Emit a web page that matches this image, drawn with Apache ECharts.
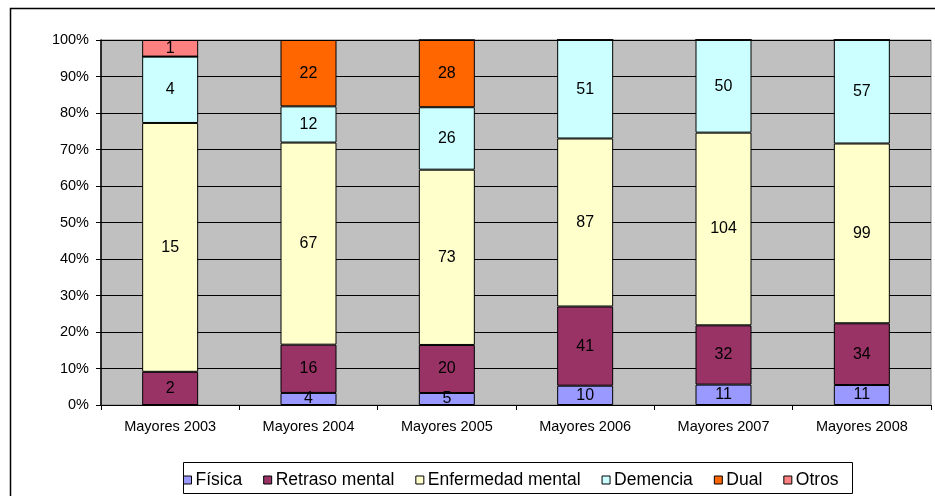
<!DOCTYPE html>
<html>
<head>
<meta charset="utf-8">
<script src="https://cdn.jsdelivr.net/npm/echarts@6/dist/echarts.min.js"></script>
<style>html,body{margin:0;padding:0;background:#fff;}#c{width:935px;height:496px;}</style>
</head>
<body>
<div id="c"></div>
<script>
var categories = ['Mayores 2003','Mayores 2004','Mayores 2005','Mayores 2006','Mayores 2007','Mayores 2008'];
var fisica = [0, 4, 5, 10, 11, 11];
var retraso = [2, 16, 20, 41, 32, 34];
var enfermedad = [15, 67, 73, 87, 104, 99];
var demencia = [4, 12, 26, 51, 50, 57];
var dual = [0, 22, 28, 0, 0, 0];
var otros = [1, 0, 0, 0, 0, 0];
var yTicks = [0,10,20,30,40,50,60,70,80,90,100];

var seriesDefs = [
  {name:'Física', data:fisica, color:'#9999FF'},
  {name:'Retraso mental', data:retraso, color:'#993366'},
  {name:'Enfermedad mental', data:enfermedad, color:'#FFFFCC'},
  {name:'Demencia', data:demencia, color:'#CCFFFF'},
  {name:'Dual', data:dual, color:'#FF6600'},
  {name:'Otros', data:otros, color:'#FF8080'}
];
var totals = categories.map(function(_, i){
  return seriesDefs.reduce(function(s, d){ return s + d.data[i]; }, 0);
});
var FONT = 'Arial, "Liberation Sans", sans-serif';

var chart = echarts.init(document.getElementById('c'), null, {renderer:'canvas'});
chart.setOption({
  animation:false,
  backgroundColor:'#fff',
  graphic:[
    {type:'rect', shape:{x:10.5, y:8.5, width:940, height:500}, style:{fill:'none', stroke:'#000', lineWidth:1.5}, silent:true},
    {type:'rect', shape:{x:183.5, y:462.5, width:669, height:31}, style:{fill:'#fff', stroke:'#000', lineWidth:1}, silent:true, z:-1}
  ],
  grid:{left:101, right:4, top:40, bottom:91, show:true, backgroundColor:'#C0C0C0', borderColor:'#808080', borderWidth:1},
  legend:{
    left:178, top:466, itemWidth:8, itemHeight:8, itemGap:21, icon:'rect',
    textStyle:{fontFamily:FONT, fontSize:17.5, color:'#000', padding:[0,0,0,-1]},
    itemStyle:{borderColor:'#000', borderWidth:1},
    data:seriesDefs.map(function(d){return d.name;}), selectedMode:false
  },
  xAxis:{
    type:'category', data:categories,
    axisLine:{show:true, lineStyle:{color:'#000', width:1}},
    axisTick:{show:true, alignWithLabel:false, length:5, lineStyle:{color:'#000'}},
    axisLabel:{fontFamily:FONT, fontSize:14.5, color:'#000', margin:14}
  },
  yAxis:{
    type:'value', min:0, max:100, interval:10,
    axisLine:{show:true, lineStyle:{color:'#000', width:1.5}},
    axisTick:{show:true, length:5, lineStyle:{color:'#000'}},
    splitLine:{show:true, lineStyle:{color:'#000', width:1}},
    axisLabel:{fontFamily:FONT, fontSize:14.5, color:'#000', margin:12, formatter:'{value}%'}
  },
  series:seriesDefs.map(function(d){
    return {
      name:d.name, type:'bar', stack:'total', barWidth:56,
      itemStyle:{color:d.color, borderColor:'#000', borderWidth:1},
      label:{show:true, position:'inside', fontFamily:FONT, fontSize:16, color:'#000',
        formatter:function(p){ return p.data.count ? String(p.data.count) : ''; }},
      data:d.data.map(function(v, i){ return {value: v / totals[i] * 100, count: v}; })
    };
  })
});
</script>
</body>
</html>
